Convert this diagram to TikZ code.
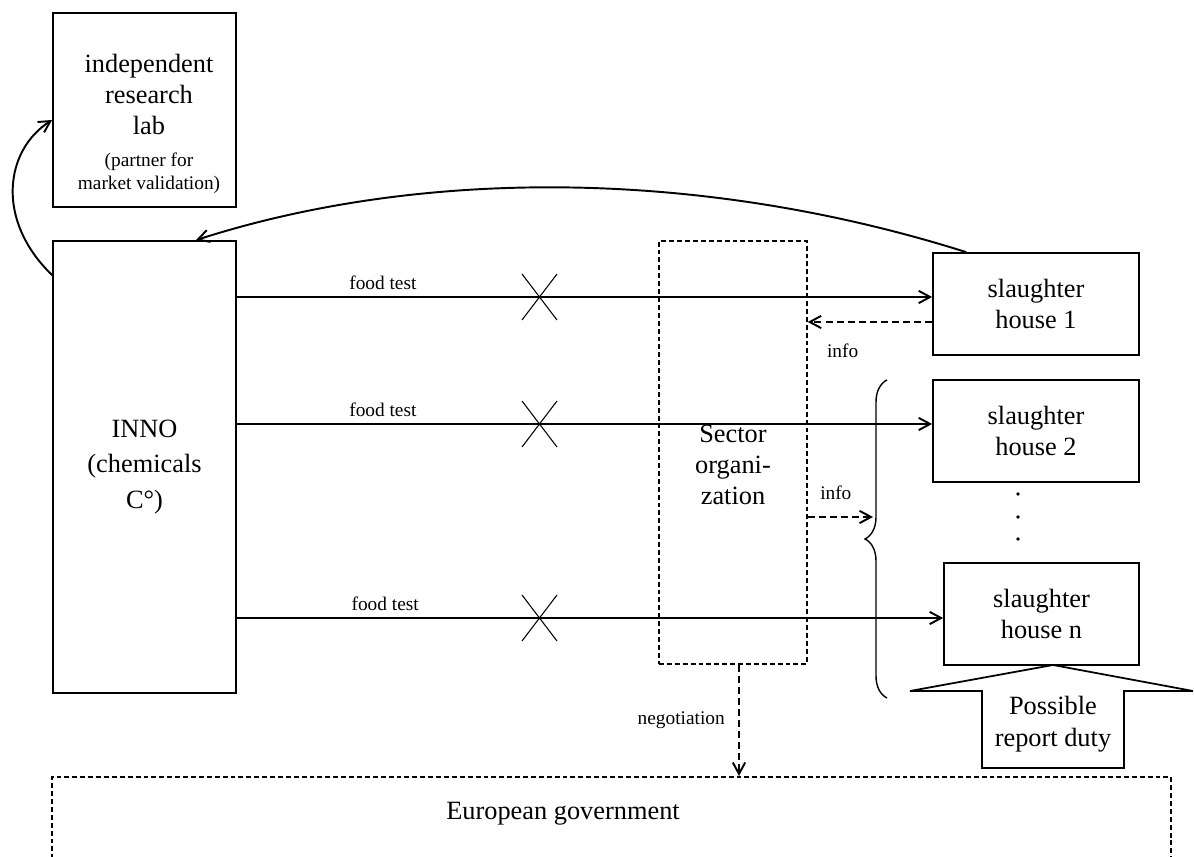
\documentclass[tikz,border=0pt]{standalone}
\usepackage{fontspec}
\setmainfont{Liberation Serif}
\usetikzlibrary{arrows.meta}
\usetikzlibrary{decorations.pathreplacing}

\newcommand{\bigtext}{\fontsize{15}{17.6}\selectfont}
\newcommand{\smalltext}{\fontsize{11}{12.5}\selectfont}

\tikzset{
  box/.style={draw, line width=1pt, inner sep=0pt, align=center, font=\bigtext},
  dbox/.style={draw, line width=0.9pt, dash pattern=on 2.8pt off 1.7pt, inner sep=0pt},
  small/.style={font=\smalltext},
  link/.style={line width=1.1pt, -{Straight Barb[length=6.5pt,width=7pt]}},
  dlink/.style={link, dash pattern=on 4pt off 2.3pt},
}

\begin{document}
\begin{tikzpicture}[x=0.02cm, y=-0.02cm]
    \useasboundingbox (0,0) rectangle (1194,857);
    \clip (0,0) rectangle (1194,857);

    % boxes
    \node[box, minimum width=3.66cm, minimum height=3.88cm] (lab) at (144.5,110) {};
    \node[align=center, font=\bigtext] (labtext) at (149,124)
      {independent\\research\\lab\\[1pt]{\smalltext (partner for}\\[-4.5pt]{\smalltext market validation)}};
    \node[box, minimum width=3.66cm, minimum height=9.04cm,
          font=\fontsize{15}{20.3}\selectfont] (inno) at (144.5,467) {INNO\\(chemicals\\C°)};
    \node[dbox, minimum width=2.96cm, minimum height=8.46cm] (sector) at (733,452.5) {};
    \node[align=center, font=\bigtext] (sectortext) at (733,465) {Sector\\organi-\\zation};
    \node[box, minimum width=4.12cm, minimum height=2.04cm] (sh1) at (1036,304) {slaughter\\house 1};
    \node[box, minimum width=4.12cm, minimum height=2.04cm] (sh2) at (1036,431) {slaughter\\house 2};
    \node[box, minimum width=3.9cm, minimum height=2.04cm] (shn) at (1041.5,614) {slaughter\\house n};
    \node[dbox, anchor=north, minimum width=22.38cm, minimum height=2.4cm] (gov) at (611.5,776) {};
    \node[font=\bigtext] (govtext) at (563,814) {European government};

    % report duty arrow
    \draw[line width=1pt] (982,768) -- (982,691) -- (910,691) -- (1053,665)
      -- (1193,691) -- (1124,691) -- (1124,768) -- cycle;
    \node[align=center, font=\fontsize{15}{18.2}\selectfont] (duty) at (1053,724) {Possible\\report duty};

    % food tests
    \foreach \y/\tgt in {297/sh1, 424/sh2, 618/shn}
      \draw[link] (inno.east |- 0,\y) -- (\tgt.west |- 0,\y) node[small, above, pos=0.21] {food test};
    \foreach \y in {297,424,618}
      \draw[line width=0.6pt] (522,\y-23) -- (557,\y+23) (522,\y+23) -- (557,\y-23);

    % info and negotiation
    \coordinate (bracetip) at (873,517);
    \draw[dlink] (sh1.west |- 0,322) -- (sector.east |- 0,322) node[small, pos=0.72, below=0.3cm] {info};
    \draw[dlink] (sector.east |- bracetip) -- (bracetip) node[small, pos=0.43, above=0.2cm] {info};
    \draw[line width=0.8pt, decorate, decoration={brace, amplitude=0.44cm}] (887,698) -- (887,380);
    \foreach \y in {494,517,539}
      \fill (1018,\y) circle (1.8);
    \draw[dlink] ([xshift=0.12cm]sector.south) -- ([xshift=0.12cm]sector.south |- gov.north)
      node[small, midway, left=0.15cm] {negotiation};

    % curved links
    \draw[link] ([xshift=0.68cm]sh1.north west) .. controls (700,168) and (420,168) .. ([xshift=-0.82cm]inno.north east);
    \draw[link] ([yshift=-0.7cm]inno.north west) .. controls (-5,220) and (5,150) .. ([yshift=-0.2cm]lab.west);
\end{tikzpicture}
\end{document}
